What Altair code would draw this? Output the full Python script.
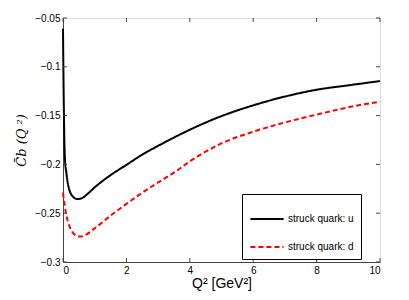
import altair as alt
import pandas as pd

q_u = [0.0, 0.01, 0.02, 0.035, 0.05, 0.07, 0.1, 0.15, 0.2, 0.3, 0.45, 0.6, 0.8, 1.0, 1.5, 2.0, 2.5, 3.0, 3.5, 4.0, 5.0, 6.0, 7.0, 8.0, 9.0, 10.0]
c_u = [-0.061, -0.095, -0.125, -0.16, -0.185, -0.199, -0.207, -0.219, -0.226, -0.2325, -0.2355, -0.2345, -0.2295, -0.2235, -0.211, -0.2005, -0.19, -0.181, -0.1725, -0.1645, -0.1505, -0.1395, -0.1305, -0.1235, -0.119, -0.1146]

q_d = [0.0, 0.05, 0.1, 0.2, 0.3, 0.45, 0.55, 0.7, 1.0, 1.5, 2.0, 2.5, 3.0, 3.5, 4.0, 5.0, 6.0, 7.0, 8.0, 9.0, 10.0]
c_d = [-0.229, -0.241, -0.251, -0.263, -0.2695, -0.2735, -0.274, -0.2725, -0.2655, -0.2525, -0.2405, -0.229, -0.2185, -0.2085, -0.197, -0.1785, -0.1665, -0.157, -0.149, -0.1415, -0.1357]

labels = ["struck quark: u", "struck quark: d"]
x_ticks = [0, 2, 4, 6, 8, 10]
y_ticks = [-0.3, -0.25, -0.2, -0.15, -0.1, -0.05]

W, H = 317, 244
FONT = "Liberation Sans"
FRAME = "#444444"

df = pd.concat([
    pd.DataFrame({"q": q_u, "c": c_u, "s": labels[0]}),
    pd.DataFrame({"q": q_d, "c": c_d, "s": labels[1]}),
])

xs = alt.Scale(domain=[0, 10], nice=False, zero=False)
ys = alt.Scale(domain=[-0.3, -0.05], nice=False, zero=False)

lines = alt.Chart(df).mark_line(strokeWidth=2, interpolate="monotone").encode(
    x=alt.X("q:Q", scale=xs, title="Q² [GeV²]",
            axis=alt.Axis(values=x_ticks, ticks=False, labelPadding=3, domainColor=FRAME,
                          grid=False, labelFontSize=10, titleFontSize=14, titlePadding=1,
                          labelFont=FONT, titleFont=FONT, titleFontWeight="normal",
                          labelColor="#000", titleColor="#000")),
    y=alt.Y("c:Q", scale=ys, title="C̄b (Q ²)",
            axis=alt.Axis(values=y_ticks, ticks=False, labelPadding=3, domainColor=FRAME,
                          grid=False, format=".2~f", labelFontSize=10, titleFontSize=13,
                          titlePadding=6, labelFont=FONT, titleFont="DejaVu Serif",
                          titleFontStyle="italic", titleFontWeight="normal",
                          labelColor="#000", titleColor="#000")),
    color=alt.Color("s:N", scale=alt.Scale(domain=labels, range=["#000000", "#ff0000"]),
                    legend=alt.Legend(title=None, orient="none", legendX=179, legendY=176,
                                      symbolType="stroke", symbolSize=1100, symbolStrokeWidth=2,
                                      labelFontSize=10, labelFont=FONT, labelColor="#000",
                                      labelExpr="datum.label + '\u00a0\u00a0\u00a0\u00a0\u00a0\u00a0\u00a0\u00a0'",
                                      fillColor="white", strokeColor="#000", padding=7,
                                      rowPadding=5, labelOffset=3, labelLimit=250)),
    strokeDash=alt.StrokeDash("s:N", scale=alt.Scale(domain=labels, range=[[1, 0], [5, 3]]),
                              legend=None),
)

xt = pd.DataFrame({"v": x_ticks})
yt = pd.DataFrame({"v": y_ticks})
tick_style = dict(color=FRAME, strokeWidth=1)
xb = alt.Chart(xt).mark_rule(**tick_style).encode(x=alt.X("v:Q", scale=xs), y=alt.value(H), y2=alt.value(H - 4))
xtop = alt.Chart(xt).mark_rule(**tick_style).encode(x=alt.X("v:Q", scale=xs), y=alt.value(0), y2=alt.value(4))
yl = alt.Chart(yt).mark_rule(**tick_style).encode(y=alt.Y("v:Q", scale=ys), x=alt.value(0), x2=alt.value(4))
yr = alt.Chart(yt).mark_rule(**tick_style).encode(y=alt.Y("v:Q", scale=ys), x=alt.value(W), x2=alt.value(W - 4))

chart = alt.layer(lines, xb, xtop, yl, yr).properties(
    width=W, height=H,
    autosize=alt.AutoSizeParams(type="none"),
    padding={"left": 55, "top": 10, "right": 20, "bottom": 30},
).configure_view(stroke=FRAME, strokeWidth=1).configure(background="white")

chart.save("out.html", embed_options={"renderer": "svg", "actions": False})
